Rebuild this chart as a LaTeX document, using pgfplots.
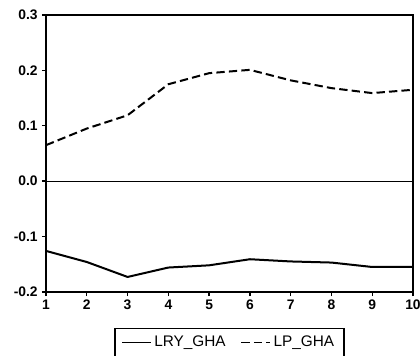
\documentclass[border=0pt]{standalone}
\usepackage{pgfplots}
\pgfplotsset{compat=1.18}
\usepackage{fontspec}
\setmainfont{Liberation Sans}
\begin{document}
\begin{tikzpicture}
\begin{axis}[
  scale only axis,
  width=220pt, height=166pt,
  xmin=1, xmax=10, ymin=-0.2, ymax=0.3,
  xtick={1,...,10},
  ytick={-0.2,-0.1,0,0.1,0.2,0.3},
  yticklabels={-0.2,-0.1,0.0,0.1,0.2,0.3},
  tick align=outside,
  major tick length=2.5pt,
  xtick pos=bottom, ytick pos=left,
  axis line style={line width=1pt},
  tick style={line width=0.8pt, black},
  ticklabel style={font=\fontsize{8.3}{10}\selectfont\bfseries},
  xticklabel style={yshift=1pt},
  yticklabel style={xshift=1pt},
  /pgf/number format/assume math mode=true,
  legend columns=2,
  legend style={at={(0.5,-0.13)}, anchor=north, draw=black, line width=0.8pt,
    font=\fontsize{9.2}{11}\selectfont, inner xsep=4pt, inner ysep=2.5pt,
    /tikz/every even column/.append style={column sep=7pt}},
  legend image code/.code={\draw[#1, line width=0.6pt] (0cm,0cm) -- (0.6cm,0cm);},
]
\addplot[black, line width=0.5pt, forget plot] coordinates {(1,0) (10,0)};
\addplot[black, line width=1.2pt] coordinates {
(1,-0.126) (2,-0.146) (3,-0.173) (4,-0.156) (5,-0.152) (6,-0.141) (7,-0.145) (8,-0.147) (9,-0.155) (10,-0.155)};
\addlegendentry{LRY\_GHA}
\addplot[black, line width=1.2pt, dash pattern=on 5pt off 2.5pt] coordinates {
(1,0.065) (2,0.095) (3,0.119) (4,0.175) (5,0.195) (6,0.201) (7,0.182) (8,0.168) (9,0.159) (10,0.165)};
\addlegendentry{LP\_GHA}
\end{axis}
\pgfresetboundingbox
\path (current axis.south west) ++(-27.6pt,-38.4pt) coordinate (bl);
\path (current axis.north east) ++(4.2pt,9pt) coordinate (tr);
\path[use as bounding box] (bl) rectangle (tr);
\end{tikzpicture}
\end{document}
